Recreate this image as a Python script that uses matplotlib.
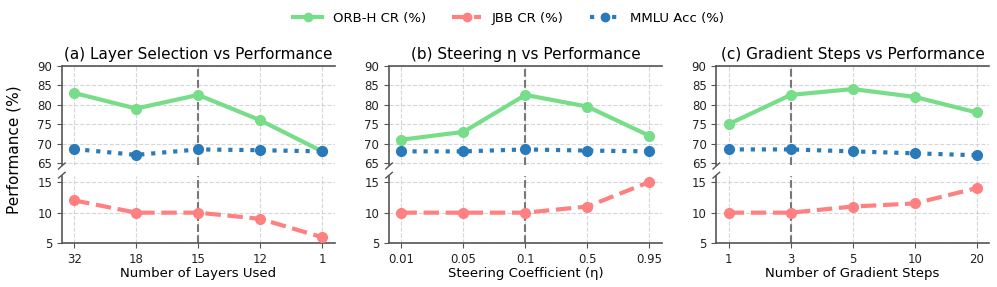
import numpy as np
import matplotlib
matplotlib.use('Agg')
import matplotlib.pyplot as plt
from matplotlib.gridspec import GridSpec, GridSpecFromSubplotSpec
from matplotlib.lines import Line2D

# data
titles = ['(a) Layer Selection vs Performance',
          '(b) Steering \u03b7 vs Performance',
          '(c) Gradient Steps vs Performance']
xlabels = ['Number of Layers Used', 'Steering Coefficient (\u03b7)', 'Number of Gradient Steps']
layer_ticks = ['32', '18', '15', '12', '1']
eta_ticks = ['0.01', '0.05', '0.1', '0.5', '0.95']
step_ticks = ['1', '3', '5', '10', '20']

orb_layers = [83, 79, 82.5, 76, 68]
jbb_layers = [12, 10, 10, 9, 6]
mmlu_layers = [68.6, 67.1, 68.5, 68.3, 68.0]

orb_eta = [71, 73, 82.5, 79.5, 72]
jbb_eta = [10, 10, 10, 11, 15]
mmlu_eta = [68.0, 68.0, 68.5, 68.2, 68.0]

orb_steps = [75, 82.5, 84, 82, 78]
jbb_steps = [10, 10, 11, 11.5, 14]
mmlu_steps = [68.5, 68.5, 68.0, 67.5, 67.0]

chosen = [2, 2, 1]  # index of the selected setting

panels = [
    (layer_ticks, orb_layers, jbb_layers, mmlu_layers),
    (eta_ticks, orb_eta, jbb_eta, mmlu_eta),
    (step_ticks, orb_steps, jbb_steps, mmlu_steps),
]

green = '#77dd88'
red = '#ff8080'
blue = '#2a7ab9'
spine_c = '#555555'

fig = plt.figure(figsize=(9.97, 2.87), dpi=100)
outer = GridSpec(1, 3, figure=fig, left=0.062, right=0.992, top=0.771, bottom=0.152, wspace=0.2)

for i, (ticks, orb, jbb, mmlu) in enumerate(panels):
    inner = GridSpecFromSubplotSpec(2, 1, subplot_spec=outer[i], height_ratios=[1.47, 1], hspace=0.13)
    ax_top = fig.add_subplot(inner[0])
    ax_bot = fig.add_subplot(inner[1], sharex=ax_top)
    x = np.arange(len(ticks))

    ax_top.plot(x, orb, color=green, lw=3, marker='o', ms=7, zorder=3)
    ax_top.plot(x, mmlu, color=blue, lw=3, ls=':', marker='o', ms=7, zorder=3)
    ax_bot.plot(x, jbb, color=red, lw=3, ls='--', marker='o', ms=7, zorder=3)

    ax_top.set_ylim(64.5, 90)
    ax_top.set_yticks([65, 70, 75, 80, 85, 90])
    ax_bot.set_ylim(5, 16)
    ax_bot.set_yticks([5, 10, 15])
    ax_bot.set_xlim(-0.2, 4.2)
    ax_bot.set_xticks(x)
    ax_bot.set_xticklabels(ticks)
    ax_top.tick_params(axis='x', bottom=False, labelbottom=False)

    for ax in (ax_top, ax_bot):
        ax.grid(True, ls='--', color='#cccccc', lw=0.8, alpha=0.8)
        ax.set_axisbelow(True)
        ax.spines['right'].set_visible(False)
        for s in ax.spines.values():
            s.set_color(spine_c)
            s.set_linewidth(1.2)
        ax.tick_params(labelsize=8.5, colors='#222222', length=3.5, color=spine_c)
        ax.axvline(chosen[i], color='#777777', ls='--', lw=1.5, zorder=2)
    ax_top.spines['bottom'].set_visible(False)
    ax_bot.spines['top'].set_visible(False)

    # break marks
    d = 0.012
    kw = dict(color=spine_c, clip_on=False, lw=1)
    ax_top.plot((-d, d), (-d * 2.5 - 0.01, d * 2.5 - 0.01), transform=ax_top.transAxes, **kw)
    ax_bot.plot((-d, d), (1 - d * 3.5 + 0.01, 1 + d * 3.5 + 0.01), transform=ax_bot.transAxes, **kw)

    ax_top.set_title(titles[i], fontsize=11, pad=5)
    ax_bot.set_xlabel(xlabels[i], fontsize=9.5, labelpad=1)

fig.text(0.014, 0.48, 'Performance (%)', rotation=90, va='center', ha='center', fontsize=11)

handles = [
    Line2D([], [], color=green, lw=3, marker='o', ms=6),
    Line2D([], [], color=red, lw=3, ls='--', marker='o', ms=6),
    Line2D([], [], color=blue, lw=3, ls=':', marker='o', ms=6),
]
fig.legend(handles, ['ORB-H CR (%)', 'JBB CR (%)', 'MMLU Acc (%)'], loc='upper center',
           bbox_to_anchor=(0.51, 1.0), ncol=3, frameon=False, fontsize=9.5, columnspacing=2.0,
           handlelength=2.2)

fig.savefig('out.png', dpi=100)
